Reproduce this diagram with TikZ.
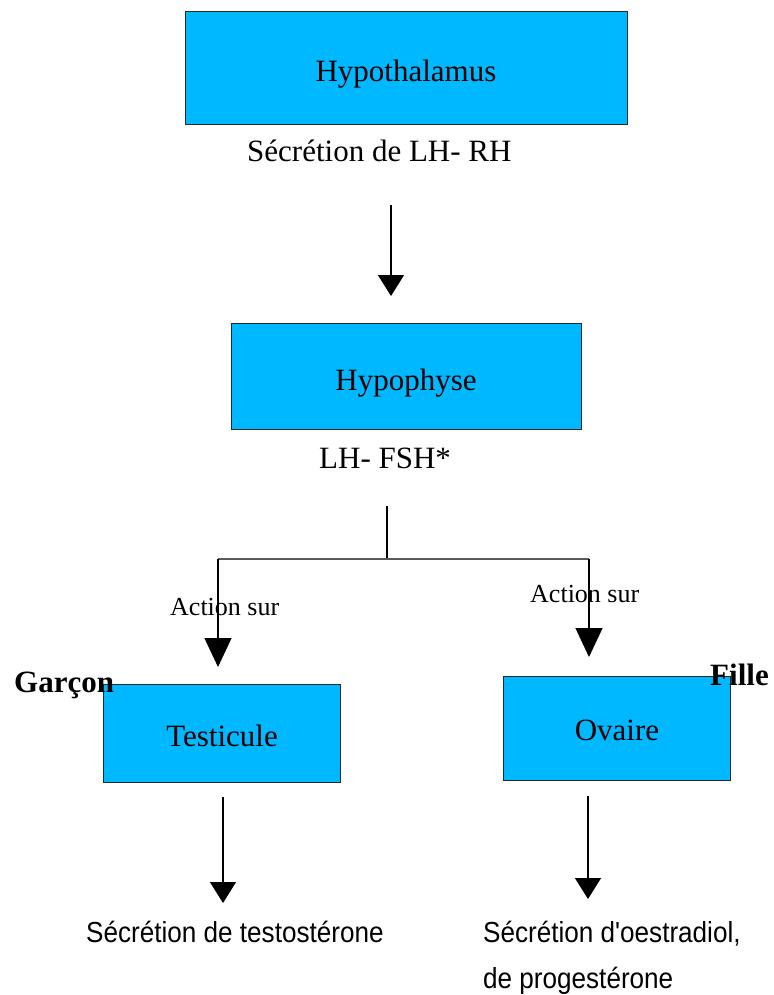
\documentclass[tikz,border=0pt]{standalone}
\usepackage{fontspec}
\setmainfont{Liberation Serif}
\newfontfamily\condsans[FakeStretch=0.9]{Liberation Sans}
\usetikzlibrary{arrows.meta}
\definecolor{boxcyan}{RGB}{0,184,255}
\definecolor{boxline}{RGB}{40,40,40}
\begin{document}
\begin{tikzpicture}[x=1pt,y=-1pt,
  organ/.style={draw=boxline,line width=1pt,fill=boxcyan,rectangle,inner sep=0pt},
  big/.style={font=\fontsize{31}{36}\selectfont,anchor=base,inner sep=0pt},
  small/.style={font=\fontsize{26}{30}\selectfont,anchor=base west,inner sep=0pt},
  sex/.style={font=\fontsize{31}{36}\selectfont\bfseries,anchor=base west,inner sep=0pt},
  result/.style={font=\condsans\fontsize{29}{34}\selectfont,anchor=base west,inner sep=0pt},
  link/.style={line width=1.2pt,draw=black},
  arr/.style={link,-{Triangle[width=26pt,length=21pt]}},
  arrb/.style={link,-{Triangle[width=27pt,length=29pt]}}
]
\useasboundingbox (0,0) rectangle (773,995);

% boxes
\node[organ,minimum width=442pt,minimum height=113pt] (hypo) at (406,68.5) {};
\node[organ,minimum width=350pt,minimum height=106pt] (hypoph) at (406,376) {};
\node[organ,minimum width=237pt,minimum height=98pt] (testi) at (222,733) {};
\node[organ,minimum width=227pt,minimum height=104pt] (ovaire) at (617,728) {};

% box texts
\node[big] (thypo) at (406,82) {Hypothalamus};
\node[big] (thypoph) at (406,390) {Hypophyse};
\node[big] (ttesti) at (222,746) {Testicule};
\node[big] (tovaire) at (617,740) {Ovaire};

% secretion labels
\node[big,anchor=base west] (lhrh) at (247,162) {Sécrétion de LH- RH};
\node[big,anchor=base west] (lhfsh) at (319,468) {LH- FSH*};

% arrow hypothalamus -> hypophyse
\coordinate (a1s) at (391,205);
\coordinate (a1e) at (391,296);
\draw[arr] (a1s) -- (a1e);

% branch
\coordinate (b0) at (387,506);
\coordinate (bj) at (387,559);
\coordinate (bl) at (218,559);
\coordinate (br) at (589,559);
\coordinate (blt) at (218,667);
\coordinate (brt) at (589,657);
\draw[link] (b0) -- (bj);
\draw[line width=1.2pt,draw=black!65] (bl) -- (br);

\node[small] (act1) at (170,615) {Action sur};
\node[small] (act2) at (530,602) {Action sur};

\draw[arrb] (bl) -- (blt);
\draw[arrb] (br) -- (brt);

% sexes
\node[sex] (garcon) at (14,692) {Garçon};
\node[sex] (fille) at (710,685) {Fille};

% lower arrows
\coordinate (t1s) at (223,797);
\coordinate (t1e) at (223,903);
\coordinate (o1s) at (588,796);
\coordinate (o1e) at (588,899);
\draw[arr] (t1s) -- (t1e);
\draw[arr] (o1s) -- (o1e);

% results
\node[result] (rtesto) at (86,942) {Sécrétion de testostérone};
\node[result] (roestr) at (483,942) {Sécrétion d'oestradiol,};
\node[result] (rprog) at (483,988) {de progestérone};
\end{tikzpicture}
\end{document}
